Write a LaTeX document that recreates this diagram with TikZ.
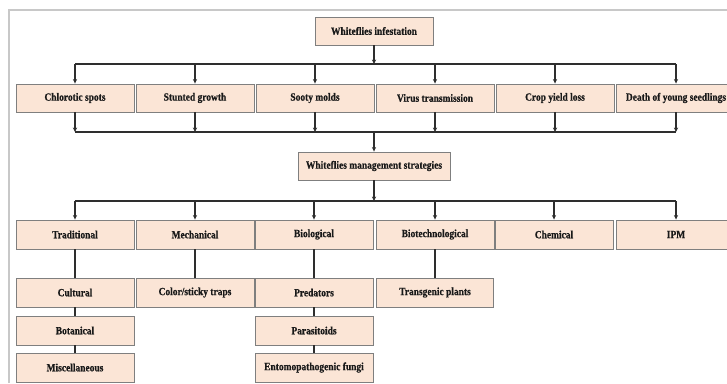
\documentclass[tikz,border=0pt]{standalone}
\usepackage{fontspec}
\usetikzlibrary{arrows.meta}
\newfontfamily\boxfont{Liberation Serif}[FakeStretch=0.86,FakeBold=0.6]
\definecolor{peach}{HTML}{FBE5D6}
\definecolor{boxgray}{HTML}{7F7F7F}
\definecolor{linec}{HTML}{2E2E2E}
\definecolor{framec}{HTML}{C8C8C8}
\tikzset{
  x=1pt, y=1pt,
  box/.style={draw=boxgray, fill=peach, line width=0.9pt, minimum width=118pt, minimum height=29pt, inner sep=0pt,
    font=\boxfont\bfseries\fontsize{11}{13}\selectfont, text=black!90},
  conn/.style={draw=linec, line width=1.6pt},
  arr/.style={conn, -{Stealth[length=4.5pt,width=4.2pt]}}
}
\begin{document}
\begin{tikzpicture}
\useasboundingbox (0,0) rectangle (727,-383);
% frame
\draw[framec, line width=2pt] (8.5,-383) -- (8.5,-9.5) -- (727,-9.5);
% top
\node[box, minimum height=28pt] (top) at (374,-31) {Whiteflies infestation};
\coordinate (bus1) at (374,-64);
\coordinate (bus2) at (374,-132);
\coordinate (bus3) at (374,-201);
% row 1
\node[box, minimum height=28pt] (c1) at (75,-98) {Chlorotic spots};
\node[box, minimum height=28pt] (c2) at (195,-98) {Stunted growth};
\node[box, minimum height=28pt] (c3) at (315,-98) {Sooty molds};
\node[box, minimum height=28pt] (c4) at (435,-98) {Virus transmission};
\node[box, minimum height=28pt] (c5) at (555,-98) {Crop yield loss};
\node[box, minimum height=28pt, minimum width=120pt] (c6) at (676,-98) {Death of young seedlings};
% management
\node[box, minimum height=28pt, minimum width=152pt] (mg) at (374,-166) {Whiteflies management strategies};
% row 2
\node[box] (s1) at (75,-234.5) {Traditional};
\node[box] (s2) at (195,-234.5) {Mechanical};
\node[box] (s3) at (314,-234.5) {Biological};
\node[box] (s4) at (435,-234.5) {Biotechnological};
\node[box] (s5) at (554,-234.5) {Chemical};
\node[box, minimum width=120pt] (s6) at (676,-234.5) {IPM};
% row 3
\node[box] (t1) at (75,-292.5) {Cultural};
\node[box] (t2) at (75,-330.5) {Botanical};
\node[box] (t3) at (75,-367.5) {Miscellaneous};
\node[box] (m1) at (195,-292.5) {Color/sticky traps};
\node[box] (b1) at (314,-292.5) {Predators};
\node[box] (b2) at (314,-330.5) {Parasitoids};
\node[box] (b3) at (314,-367.5) {Entomopathogenic fungi};
\node[box, minimum width=117pt] (g1) at (435,-292.5) {Transgenic plants};
% connectors top -> row1
\draw[arr] (top.south) -- (bus1);
\draw[conn] (c1.north |- bus1) -- (c6.north |- bus1);
\foreach \n in {c1,c2,c3,c4,c5,c6} \draw[arr] (\n.north |- bus1) -- (\n.north);
% row1 -> management
\draw[conn] (c1.south |- bus2) -- (c6.south |- bus2);
\foreach \n in {c1,c2,c3,c4,c5,c6} \draw[arr] (\n.south) -- (\n.south |- bus2);
\draw[arr] (bus2) -- (bus2 |- mg.north);
% management -> row2
\draw[arr] (mg.south) -- (mg.south |- bus3);
\draw[conn] (s1.north |- bus3) -- (s6.north |- bus3);
\foreach \n in {s1,s2,s3,s4,s5,s6} \draw[arr] (\n.north |- bus3) -- (\n.north);
% row2 -> row3
\draw[conn] (s1.south) -- (t1.north);
\draw[conn] (t1.south) -- (t2.north);
\draw[conn] (t2.south) -- (t3.north);
\draw[conn] (s2.south) -- (m1.north);
\draw[conn] (s3.south) -- (b1.north);
\draw[conn] (b1.south) -- (b2.north);
\draw[conn] (b2.south) -- (b3.north);
\draw[conn] (s4.south) -- (g1.north);
\end{tikzpicture}
\end{document}
